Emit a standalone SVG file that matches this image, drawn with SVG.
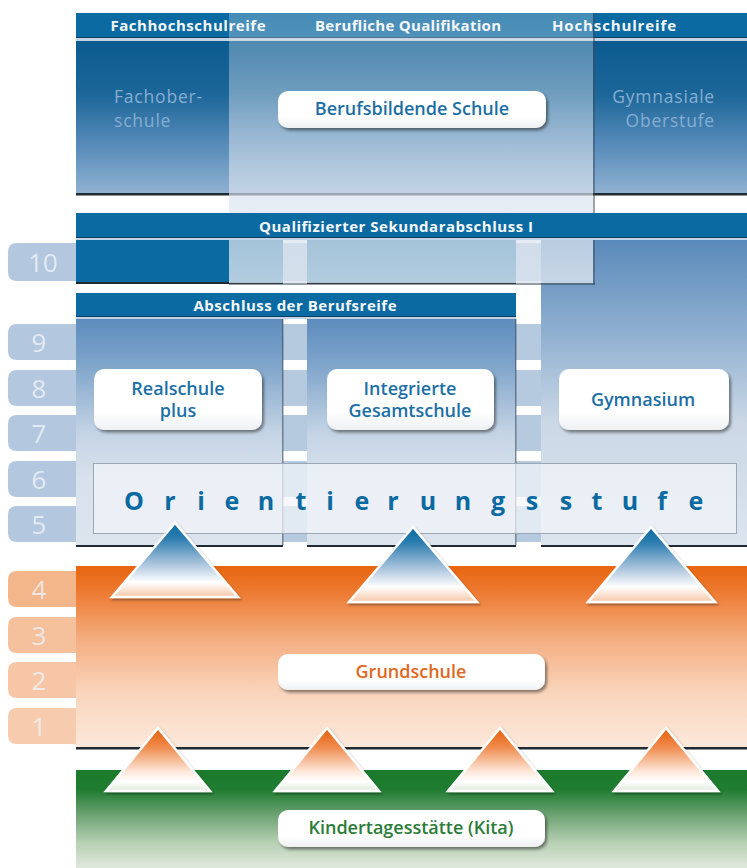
<svg xmlns="http://www.w3.org/2000/svg" width="747" height="868" viewBox="0 0 747 868">
<defs>
<style>
.hdr{font-family:"Open Sans","Liberation Sans",sans-serif;font-weight:700;font-size:15px;fill:#f4f8fb;text-anchor:middle}
.lbl{font-family:"Open Sans","Liberation Sans",sans-serif;font-size:18px;font-weight:600;text-anchor:middle}
.blue{fill:#1c6fa5}
.side{font-family:"Open Sans","Liberation Sans",sans-serif;font-size:17.5px;letter-spacing:0.8px;fill:#86aed2}
.num{font-family:"Open Sans","Liberation Sans",sans-serif;font-size:26px;fill:#eef3f8;text-anchor:middle;opacity:.8}
.box{fill:url(#boxg);filter:url(#sh)}
.bar{fill:#0c6aa2}
.tabb{fill:#b3c8df}
.line{fill:#1f2a33}
.lite{fill:#c3d3e3}
.gap{fill:#b5c9df}
.trib{fill:url(#triB);stroke:#fff;stroke-width:2.5;filter:url(#tsh)}
.trio{fill:url(#triO);stroke:#fff;stroke-width:2.5;filter:url(#tsh)}
</style>
<filter id="sh" x="-10%" y="-20%" width="130%" height="150%"><feDropShadow dx="2" dy="2.5" stdDeviation="1.5" flood-color="#000" flood-opacity="0.45"/></filter>
<filter id="tsh" x="-10%" y="-10%" width="130%" height="130%"><feDropShadow dx="1.5" dy="2" stdDeviation="1.2" flood-color="#000" flood-opacity="0.35"/></filter>
<linearGradient id="topBody" x1="0" y1="0" x2="0" y2="1"><stop offset="0" stop-color="#0b5b90"/><stop offset="0.35" stop-color="#1c6699"/><stop offset="0.7" stop-color="#5a8dbb"/><stop offset="1" stop-color="#8fb1d0"/></linearGradient>
<linearGradient id="colG" x1="0" y1="0" x2="0" y2="1"><stop offset="0" stop-color="#5d8dbd"/><stop offset="0.2" stop-color="#7ea4ca"/><stop offset="0.5" stop-color="#c3d3e4"/><stop offset="0.7" stop-color="#d8e1ec"/><stop offset="1" stop-color="#dce4ee"/></linearGradient>
<linearGradient id="col3G" x1="0" y1="0" x2="0" y2="1"><stop offset="0" stop-color="#5a8aba"/><stop offset="0.3" stop-color="#8eafd0"/><stop offset="0.6" stop-color="#cbd8e6"/><stop offset="1" stop-color="#dce4ee"/></linearGradient>
<linearGradient id="ovl" x1="0" y1="0" x2="0" y2="1"><stop offset="0" stop-color="#dbe4ee" stop-opacity="0.28"/><stop offset="0.17" stop-color="#dbe4ee" stop-opacity="0.36"/><stop offset="0.67" stop-color="#dbe4ee" stop-opacity="0.66"/><stop offset="1" stop-color="#dbe4ee" stop-opacity="0.8"/></linearGradient>
<linearGradient id="orG" x1="0" y1="0" x2="0" y2="1"><stop offset="0" stop-color="#e8650e"/><stop offset="0.15" stop-color="#ed7b33"/><stop offset="0.4" stop-color="#f4ad80"/><stop offset="0.7" stop-color="#f9d5bc"/><stop offset="1" stop-color="#fce8da"/></linearGradient>
<linearGradient id="grG" x1="0" y1="0" x2="0" y2="1"><stop offset="0" stop-color="#1b7a2c"/><stop offset="0.2" stop-color="#1f7c30"/><stop offset="0.45" stop-color="#6aa171"/><stop offset="0.75" stop-color="#b9d1b5"/><stop offset="1" stop-color="#dfe8db"/></linearGradient>
<linearGradient id="boxg" x1="0" y1="0" x2="0" y2="1"><stop offset="0" stop-color="#ffffff"/><stop offset="0.7" stop-color="#ffffff"/><stop offset="1" stop-color="#eef0f2"/></linearGradient>
<linearGradient id="triB" x1="0" y1="0" x2="0" y2="1"><stop offset="0" stop-color="#0b6aa1"/><stop offset="0.2" stop-color="#2a7cb0"/><stop offset="0.55" stop-color="#a9c3dc"/><stop offset="0.8" stop-color="#ffffff"/><stop offset="0.9" stop-color="#fbe3d3"/><stop offset="1" stop-color="#f5c7a8"/></linearGradient>
<linearGradient id="triO" x1="0" y1="0" x2="0" y2="1"><stop offset="0" stop-color="#e5600c"/><stop offset="0.3" stop-color="#ef8a4c"/><stop offset="0.7" stop-color="#fde9dc"/><stop offset="0.85" stop-color="#ffffff"/><stop offset="1" stop-color="#dfe9da"/></linearGradient>
</defs>
<rect width="747" height="868" fill="#ffffff"/>

<g id="grade-tabs">
<path class="tabb" d="M76 243H17Q8 243 8 252V272Q8 281 17 281H76Z"/>
<path class="tabb" d="M76 324H17Q8 324 8 333V351Q8 360 17 360H76Z"/>
<path class="tabb" d="M76 370H17Q8 370 8 379V397Q8 406 17 406H76Z"/>
<path class="tabb" d="M76 415H17Q8 415 8 424V442Q8 451 17 451H76Z"/>
<path class="tabb" d="M76 461H17Q8 461 8 470V488Q8 497 17 497H76Z"/>
<path class="tabb" d="M76 506H17Q8 506 8 515V533Q8 542 17 542H76Z"/>
<path fill="#f3b68b" d="M76 571H17Q8 571 8 580V598Q8 607 17 607H76Z"/>
<path fill="#f5c09c" d="M76 617H17Q8 617 8 626V644Q8 653 17 653H76Z"/>
<path fill="#f6c6a6" d="M76 662H17Q8 662 8 671V689Q8 698 17 698H76Z"/>
<path fill="#f7cbad" d="M76 708H17Q8 708 8 717V735Q8 744 17 744H76Z"/>
<text class="num" x="43" y="271.5">10</text>
<text class="num" x="39" y="351.5">9</text>
<text class="num" x="39" y="397.5">8</text>
<text class="num" x="39" y="442.5">7</text>
<text class="num" x="39" y="488.5">6</text>
<text class="num" x="39" y="533.5">5</text>
<text class="num" x="39" y="598.5">4</text>
<text class="num" x="39" y="644.5">3</text>
<text class="num" x="39" y="689.5">2</text>
<text class="num" x="39" y="735.5">1</text>
</g>

<g id="sekundarstufe-II">
<rect class="bar" x="76" y="13" width="671" height="24"/>
<rect x="76" y="37" width="671" height="1" fill="#0a3d60"/>
<rect x="76" y="38" width="671" height="3" class="lite"/>
<rect x="76" y="41" width="671" height="152" fill="url(#topBody)"/>
<rect class="line" x="76" y="193" width="671" height="2.5"/>
</g>

<g id="column-gaps">
<rect class="gap" x="283" y="243" width="24" height="38"/>
<rect class="gap" x="283" y="324" width="24" height="36"/>
<rect class="gap" x="283" y="370" width="24" height="36"/>
<rect class="gap" x="283" y="415" width="24" height="36"/>
<rect class="gap" x="283" y="461" width="24" height="36"/>
<rect class="gap" x="283" y="506" width="24" height="36"/>
<rect class="gap" x="516" y="243" width="25" height="38"/>
<rect class="gap" x="516" y="324" width="25" height="36"/>
<rect class="gap" x="516" y="370" width="25" height="36"/>
<rect class="gap" x="516" y="415" width="25" height="36"/>
<rect class="gap" x="516" y="461" width="25" height="36"/>
<rect class="gap" x="516" y="506" width="25" height="36"/>
</g>

<g id="row10">
<rect class="bar" x="76" y="240" width="207" height="42"/>
<rect class="bar" x="307" y="240" width="209" height="42"/>
<rect class="line" x="76" y="282" width="207" height="2"/>
<rect class="line" x="307" y="282" width="209" height="2"/>
</g>

<g id="gymnasium-col">
<rect x="541" y="240" width="206" height="305" fill="url(#col3G)"/>
<rect class="line" x="541" y="545" width="206" height="2"/>
</g>

<g id="berufsbildende-overlay">
<rect x="229" y="13" width="364" height="270" fill="url(#ovl)"/>
<rect x="593" y="13" width="2" height="272" fill="#3c4a58" opacity="0.5"/>
<rect x="229" y="283" width="366" height="2" fill="#3c4a58" opacity="0.55"/>
</g>

<g id="top-headers">
<text class="hdr" x="188" y="31" textLength="155" lengthAdjust="spacing">Fachhochschulreife</text>
<text class="hdr" x="408" y="31" textLength="186" lengthAdjust="spacing">Berufliche Qualifikation</text>
<text class="hdr" x="614" y="31" textLength="124" lengthAdjust="spacing">Hochschulreife</text>
</g>

<g id="fachoberschule">
<text class="side" x="114" y="103">Fachober-</text>
<text class="side" x="114" y="127">schule</text>
</g>

<g id="gymnasiale-oberstufe">
<text class="side" x="715" y="103" text-anchor="end">Gymnasiale</text>
<text class="side" x="715" y="127" text-anchor="end">Oberstufe</text>
</g>

<g id="berufsbildende-schule">
<rect class="box" x="278" y="91" width="268" height="37" rx="10"/>
<text class="lbl blue" x="412" y="115">Berufsbildende Schule</text>
</g>

<g id="qualifizierter-sekundarabschluss">
<rect class="bar" x="76" y="213" width="671" height="24"/>
<rect x="76" y="237" width="671" height="1" fill="#0a3d60"/>
<rect x="76" y="238" width="671" height="2" class="lite"/>
<text class="hdr" x="396" y="232" textLength="274" lengthAdjust="spacing">Qualifizierter Sekundarabschluss I</text>
</g>

<g id="abschluss-berufsreife">
<rect class="bar" x="76" y="293" width="440" height="24"/>
<rect x="76" y="316" width="440" height="1" fill="#0a3d60"/>
<rect x="76" y="317" width="440" height="2" class="lite"/>
<text class="hdr" x="295" y="311" textLength="203" lengthAdjust="spacing">Abschluss der Berufsreife</text>
</g>

<g id="realschule-col">
<rect x="76" y="319" width="207" height="226" fill="url(#colG)"/>
<rect x="282" y="319" width="1.5" height="226" fill="#3c4a58" opacity="0.6"/>
<rect class="line" x="76" y="545" width="207" height="2"/>
</g>

<g id="igs-col">
<rect x="307" y="319" width="209" height="226" fill="url(#colG)"/>
<rect x="515" y="319" width="1.5" height="226" fill="#3c4a58" opacity="0.6"/>
<rect class="line" x="307" y="545" width="209" height="2"/>
</g>

<g id="orientierungsstufe">
<rect x="93.5" y="463.5" width="643" height="70" fill="#f2f5f9" fill-opacity="0.72" stroke="#9aa8b6" stroke-width="1"/>
<text x="134 170 201 232 266 301 330 362 393 428 463 498 532 566 597 630 662 696" y="510" text-anchor="middle" font-family="Open Sans, Liberation Sans, sans-serif" font-size="25" font-weight="700" fill="#0b6aa1">Orientierungsstufe</text>
</g>

<g id="realschule-plus">
<rect class="box" x="94" y="369" width="168" height="61" rx="10"/>
<text class="lbl blue" x="178" y="395">Realschule</text>
<text class="lbl blue" x="178" y="417">plus</text>
</g>

<g id="integrierte-gesamtschule">
<rect class="box" x="327" y="369" width="167" height="61" rx="10"/>
<text class="lbl blue" x="410" y="395">Integrierte</text>
<text class="lbl blue" x="410" y="417">Gesamtschule</text>
</g>

<g id="gymnasium">
<rect class="box" x="559" y="369" width="170" height="61" rx="10"/>
<text class="lbl blue" x="643" y="406">Gymnasium</text>
</g>

<g id="grundschule">
<rect x="76" y="566" width="671" height="181" fill="url(#orG)"/>
<rect class="line" x="76" y="747" width="671" height="2.5"/>
<rect class="box" x="278" y="654" width="267" height="36" rx="10"/>
<text class="lbl" x="411" y="678" fill="#e2681d">Grundschule</text>
</g>

<g id="kita">
<rect x="76" y="770" width="671" height="98" fill="url(#grG)"/>
<rect class="box" x="278" y="810" width="267" height="37" rx="10"/>
<text class="lbl" x="411" y="834" fill="#2b7c38">Kindertagesstätte (Kita)</text>
</g>

<g id="connectors">
<polygon class="trib" points="175,523 112,597 238,597"/>
<polygon class="trib" points="413,527 349,602 477,602"/>
<polygon class="trib" points="651,527 588,602 715,602"/>
<polygon class="trio" points="158,728 106,791 210,791"/>
<polygon class="trio" points="327,728 275,791 379,791"/>
<polygon class="trio" points="500,728 448,791 552,791"/>
<polygon class="trio" points="666,728 614,791 718,791"/>
</g>
</svg>
